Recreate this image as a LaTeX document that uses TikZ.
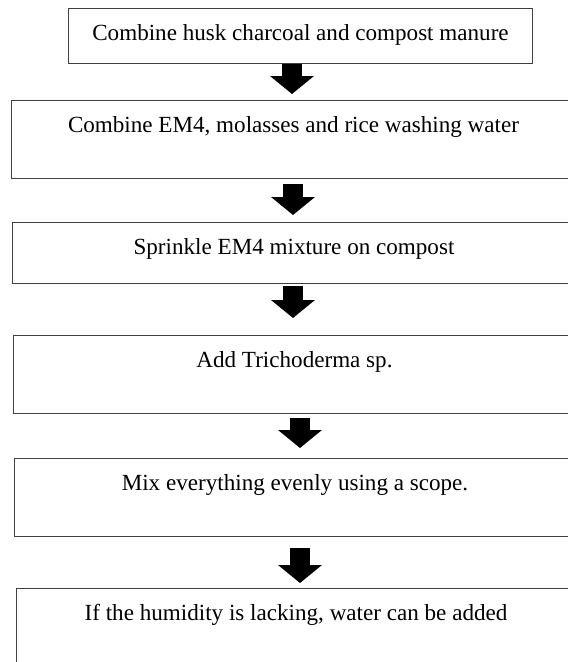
\documentclass[tikz,border=0pt]{standalone}
\usepackage{fontspec}
\setmainfont{Liberation Serif}
\usetikzlibrary{arrows.meta}

\begin{document}
\begin{tikzpicture}[x=1pt,y=-1pt,
  box/.style={draw=black!75,line width=1pt,anchor=north west,inner xsep=0pt,inner ysep=0pt,
    text height=32pt,font=\fontsize{23.1}{27}\selectfont},
  flow/.style={line width=20pt,-{Triangle[width=43pt,length=18pt]}}]
\useasboundingbox (0,0) rectangle (568,662);
% Steps
\node[box,minimum width=464pt,text depth=23pt] (b1) at (68,8) {Combine husk charcoal and compost manure};
\node[box,minimum width=564pt,text depth=46pt] (b2) at (11,100) {Combine EM4, molasses and rice washing water};
\node[box,minimum width=563pt,text depth=29pt] (b3) at (12,222) {Sprinkle EM4 mixture on compost};
\node[box,minimum width=562pt,text depth=46pt] (b4) at (13,335) {Add Trichoderma sp.};
\node[box,minimum width=561pt,text depth=46pt] (b5) at (14,458) {Mix everything evenly using a scope.};
\node[box,minimum width=559pt,text depth=48pt] (b6) at (16,588) {If the humidity is lacking, water can be added};
% Arrow columns
\coordinate (c1) at (292,0);
\coordinate (c2) at (293,0);
\coordinate (c3) at (293,0);
\coordinate (c4) at (300,0);
\coordinate (c5) at (300,0);
% Step to step
\draw[flow,shorten >=6pt] (b1.south -| c1) -- (b2.north -| c1);
\draw[flow,shorten <=5pt,shorten >=7pt] (b2.south -| c2) -- (b3.north -| c2);
\draw[flow,shorten <=2pt,shorten >=17pt] (b3.south -| c3) -- (b4.north -| c3);
\draw[flow,shorten <=4pt,shorten >=10pt] (b4.south -| c4) -- (b5.north -| c4);
\draw[flow,shorten <=11pt,shorten >=5pt] (b5.south -| c5) -- (b6.north -| c5);
\end{tikzpicture}
\end{document}
